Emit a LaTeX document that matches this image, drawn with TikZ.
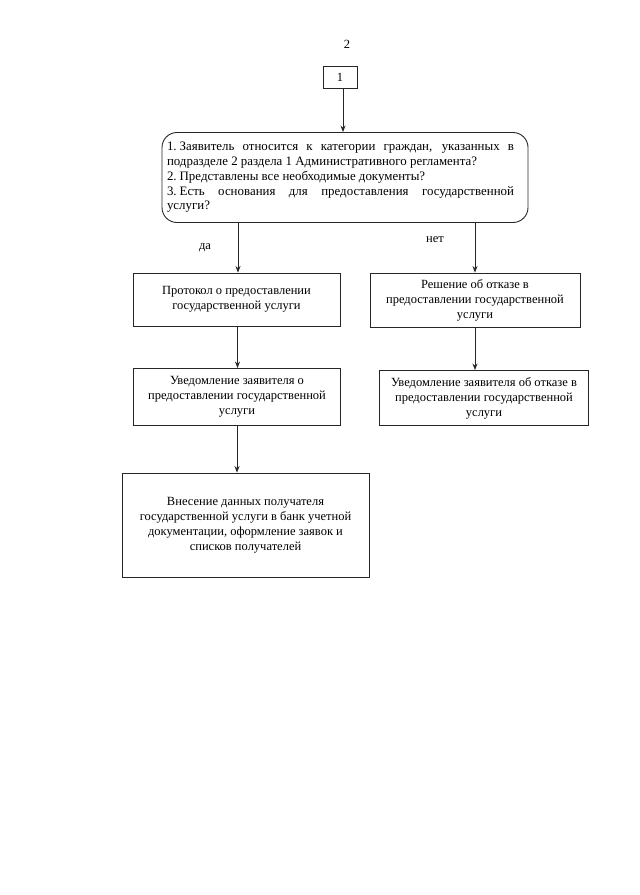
\documentclass[tikz,border=0pt]{standalone}
\usepackage{fontspec}
\setmainfont{Liberation Serif}
\usetikzlibrary{arrows.meta}
\begin{document}
\begin{tikzpicture}[x=1pt,y=-1pt,
  every node/.style={font=\fontsize{12.5}{15}\selectfont, text=black},
  box/.style={draw=black!85, line width=0.9pt, align=center, inner sep=0pt},
  arr/.style={draw=black!85, line width=0.9pt, -{Stealth[length=6.5pt,width=5pt]}}]
\useasboundingbox (0,0) rectangle (640,895);
\node (num) at (347,44) {2};
\node[box, minimum width=34pt, minimum height=22pt] (b1) at (340,77) {1};
\node[box, rounded corners=15pt, minimum width=366pt, minimum height=90pt] (dec) at (345,177.5)
 {\parbox{347pt}{\fontsize{12.9}{14.8}\selectfont
  \makebox[\linewidth][s]{1.\kern3pt Заявитель относится к категории граждан, указанных в}\\
  подразделе 2 раздела 1 Административного регламента?\\
  2.\kern3pt Представлены все необходимые документы?\\
  \makebox[\linewidth][s]{3.\kern3pt Есть основания для предоставления государственной}\\
  услуги?}\hspace*{9pt}};
\node[box, minimum width=207pt, minimum height=53pt] (prot) at (236.5,299.5)
 {Протокол о предоставлении\\государственной услуги};
\node[box, minimum width=210pt, minimum height=54pt] (resh) at (475,300)
 {Решение об отказе в\\предоставлении государственной\\услуги};
\node[box, minimum width=207pt, minimum height=57pt] (uvl) at (237,397)
 {Уведомление заявителя о\\предоставлении государственной\\услуги};
\node[box, minimum width=209pt, minimum height=55pt] (uvr) at (484,398)
 {Уведомление заявителя об отказе в\\предоставлении государственной\\услуги};
\node[box, minimum width=247pt, minimum height=104pt] (vnes) at (245.5,525)
 {Внесение данных получателя\\государственной услуги в банк учетной\\документации, оформление заявок и\\списков получателей};
\node (da) at (205,248) {да};
\node (net) at (435,240) {нет};
\draw[arr] ([xshift=3pt]b1.south) -- ([xshift=3pt]b1.south |- dec.north);
\draw[arr] ([xshift=1.5pt]prot.north |- dec.south) -- ([xshift=1.5pt]prot.north);
\draw[arr] (resh.north |- dec.south) -- (resh.north);
\draw[arr] ([xshift=1pt]prot.south) -- ([xshift=1pt]prot.south |- uvl.north);
\draw[arr] (resh.south) -- (resh.south |- uvr.north);
\draw[arr] (uvl.south) -- (uvl.south |- vnes.north);
\end{tikzpicture}
\end{document}
